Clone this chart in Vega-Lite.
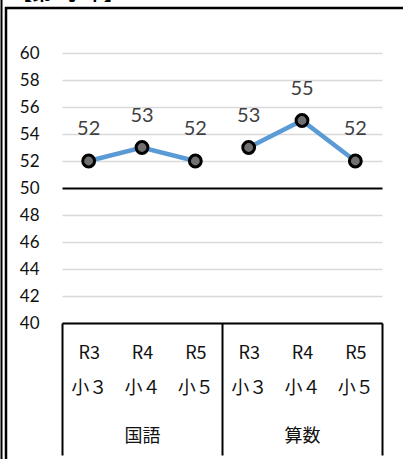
{
  "$schema": "https://vega.github.io/schema/vega-lite/v6.json",
  "autosize": "none",
  "width": 400,
  "height": 455,
  "padding": {"left": 6, "top": 8, "right": 0, "bottom": 0},
  "background": "white",
  "config": {
    "view": {"stroke": "black", "strokeWidth": 2.5},
    "font": "Noto Sans CJK JP"
  },
  "title": {
    "text": "【第5学年】",
    "anchor": "start",
    "frame": "group",
    "fontSize": 20,
    "fontWeight": "bold",
    "font": "Noto Sans CJK JP",
    "color": "black",
    "offset": 4,
    "dx": 6
  },
  "data": {
    "values": [
      {"subject": "国語", "cat": "国語|R3|小３", "value": 52},
      {"subject": "国語", "cat": "国語|R4|小４", "value": 53},
      {"subject": "国語", "cat": "国語|R5|小５", "value": 52},
      {"subject": "算数", "cat": "算数|R3|小３", "value": 53},
      {"subject": "算数", "cat": "算数|R4|小４", "value": 55},
      {"subject": "算数", "cat": "算数|R5|小５", "value": 52}
    ]
  },
  "resolve": {"scale": {"x": "independent", "y": "independent"}, "axis": {"x": "independent", "y": "independent"}},
  "layer": [
    {
      "encoding": {
        "x": {
          "field": "cat", "type": "nominal", "sort": null,
          "scale": {"type": "point", "range": [56, 376], "padding": 0.5},
          "axis": {
            "orient": "bottom", "offset": -140, "title": null,
            "domain": true, "domainColor": "black", "domainWidth": 2,
            "ticks": false, "tickSize": 0, "grid": false,
            "labelExpr": "slice(split(datum.label, '|'), 1)",
            "labelAngle": 0, "labelFontSize": 18, "labelColor": "#111",
            "labelLineHeight": 35, "labelPadding": 21, "labelOverlap": false,
            "labelFont": "Noto Sans CJK JP"
          }
        },
        "y": {
          "field": "value", "type": "quantitative",
          "scale": {"domain": [40, 60], "range": [315, 45], "nice": false, "zero": false},
          "axis": {
            "orient": "left", "offset": -56, "title": null,
            "values": [40, 42, 44, 46, 48, 50, 52, 54, 56, 58, 60],
            "domain": false, "ticks": false, "tickSize": 0,
            "labelPadding": 23, "labelFontSize": 17, "labelFont": "Lato", "labelColor": "#111",
            "grid": true,
            "gridColor": {"condition": {"test": "datum.value === 50", "value": "black"}, "value": "#d9d9d9"},
            "gridWidth": {"condition": {"test": "datum.value === 50", "value": 2}, "value": 1.5}
          }
        }
      },
      "layer": [
        {
          "mark": {"type": "line", "color": "#5b9bd5", "strokeWidth": 4.5},
          "encoding": {"detail": {"field": "subject", "type": "nominal"}}
        },
        {
          "mark": {"type": "point", "filled": true, "fill": "#707070", "stroke": "black", "strokeWidth": 3, "size": 140, "opacity": 1}
        },
        {
          "mark": {"type": "text", "dy": -32, "fontSize": 20, "font": "Lato", "color": "#404040"},
          "encoding": {"text": {"field": "value", "type": "quantitative"}}
        }
      ]
    },
    {
      "mark": {"type": "tick", "opacity": 0},
      "encoding": {
        "x": {
          "field": "subject", "type": "nominal", "sort": null,
          "scale": {"type": "band", "range": [56, 376], "paddingInner": 0, "paddingOuter": 0},
          "axis": {
            "orient": "bottom", "offset": -140, "title": null,
            "domain": false, "ticks": true, "tickBand": "extent", "tickSize": 132,
            "tickColor": "black", "tickWidth": 2, "grid": false,
            "labelAngle": 0, "labelFontSize": 18, "labelColor": "#111",
            "labelPadding": -28, "labelOverlap": false, "labelFont": "Noto Sans CJK JP"
          }
        },
        "y": {
          "field": "value", "type": "quantitative",
          "scale": {"domain": [40, 60], "range": [460, -10], "nice": false, "zero": false},
          "axis": {
            "orient": "left", "offset": 5, "title": null,
            "domain": true, "domainColor": "black", "domainWidth": 2,
            "ticks": false, "labels": false, "grid": false
          }
        }
      }
    }
  ]
}
